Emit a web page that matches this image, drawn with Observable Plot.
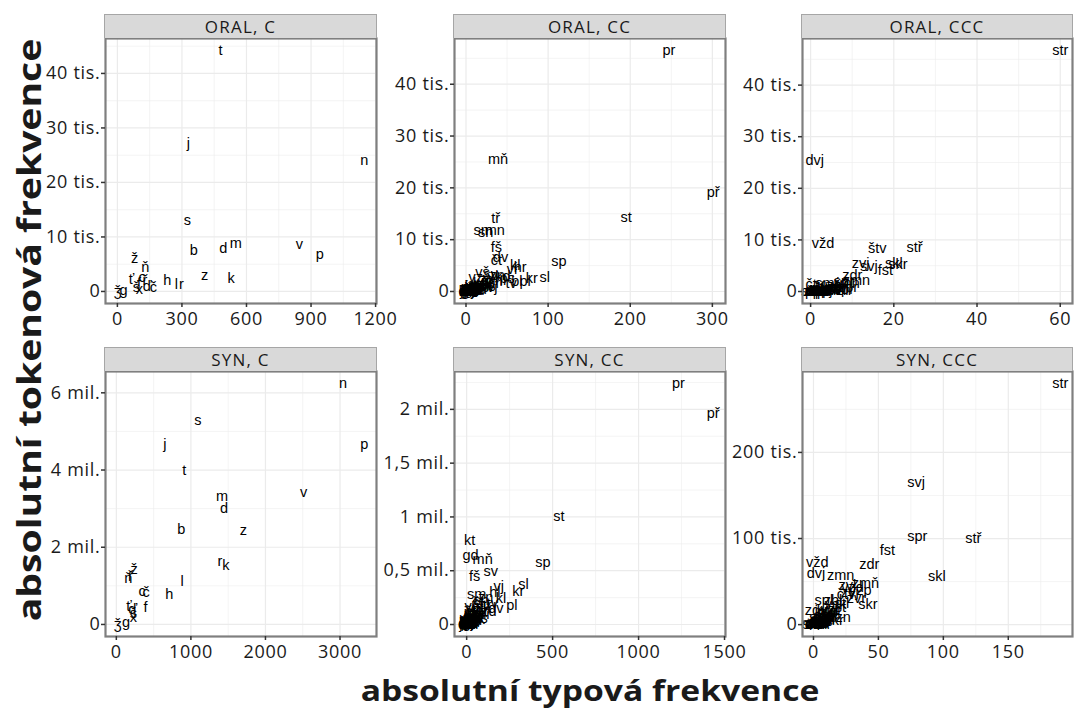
<!DOCTYPE html>
<html>
<head>
<meta charset="utf-8">
<script src="https://cdn.jsdelivr.net/npm/d3@7"></script>
<script src="https://cdn.jsdelivr.net/npm/@observablehq/plot@0.6"></script>
<style>
  html, body { margin: 0; padding: 0; background: #fff; }
  #root { position: relative; width: 1075px; height: 713px; overflow: hidden; font-family: "Open Sans", sans-serif; background: #fff; }
  .strip { position: absolute; box-sizing: border-box; background: #d9d9d9; border: 1px solid #a6a6a6; border-bottom: none;
           font-size: 17px; letter-spacing: 1.2px; color: #1a1a1a; text-align: center; line-height: 23px; height: 24px; }
  .panel { position: absolute; }
  .panel g[aria-label="x-axis tick label"] text,
  .panel g[aria-label="y-axis tick label"] text { letter-spacing: 0.7px; }
  .ytitle { position: absolute; font-weight: 700; font-size: 32px; color: #1a1a1a; white-space: nowrap;
            transform: translate(-50%, -50%) rotate(-90deg) scaleX(1.22); }
  .xtitle { position: absolute; font-weight: 700; font-size: 29px; color: #1a1a1a; white-space: nowrap;
            transform: translate(-50%, -50%) scaleX(1.16); }
</style>
</head>
<body>
<div id="root"></div>
<script>
// ---------- DATA ----------
const stripTitles = ["ORAL, C", "ORAL, CC", "ORAL, CCC", "SYN, C", "SYN, CC", "SYN, CCC"];
const xAxisTitle = "absolutní typová frekvence";
const yAxisTitle = "absolutní tokenová frekvence";

// ORAL, C
const oralC_label = ["t","j","n","s","b","d","m","v","p","z","k","h","l","r","ž","ň","ť","c","ř","š","ď","č","x","g","ǯ","f"];
const oralC_type  = [479,330,1147,325,355,492,550,846,941,406,529,232,274,298,80,130,65,115,128,88,138,167,102,28,2,100];
const oralC_token = [44200,27200,24100,13000,7500,7900,8800,8600,6800,2900,2400,2000,1300,1300,6100,4400,2300,2500,2000,700,1000,700,400,200,0,1500];
const oralC_xticks = [0,300,600,900,1200];
const oralC_yticks = [0,10000,20000,30000,40000];

// ORAL, CC
const oralCC_label = ["pr","mň","př","st","tř","sm","sn","mn","fš","dv","čt","sp","kl","hr","vr","kr","sl","pl","bl","tv","vš","sv","zn","kd","ps","hl","zd","tr","dr","kn","vz","vd","zv","sk","šk","vj","kt","gr","gl","zl","ml","sr","šl","šp","br","mr","cv","žd","dl","ct","tl","vk","vl","vp","vs","km","zb","šv","čl","ks","jm","žr",
  "bd","bz","cl","čm","čr","db","dm","dn","dř","gd","hm","hn","hv","hř","jd","kš","kv","lh","pn","pš","pt","rv","rt","řv","sc","sf","šť","šm","šn","št","tk","tm","tn","vč","vh","vm","vn","vř","vt","zř","zh","zj","zr","žl","žn","žv","bj","pj","mj","ft","fr","fl","ck","tš"];
const oralCC_type  = [247,39,301,195,36,21,24,35,37,42,37,113,60,66,57,80,96,72,62,55,20,30,38,45,50,42,25,28,34,18,12,8,15,24,10,32,6,14,5,3,4,2,9,13,26,7,11,16,5,3,8,22,17,19,27,10,6,4,14,3,2,1,
  1,2,2,3,5,2,3,6,7,4,6,9,8,5,6,3,12,2,4,5,9,3,4,2,3,2,6,4,3,25,11,7,3,4,3,8,14,6,12,5,9,6,7,4,3,5,3,4,6,3,8,4,1,2];
const oralCC_token = [46500,25500,19200,14300,14100,11700,11500,11800,8500,6600,6000,5800,5000,4600,4200,2600,2800,2000,1900,1500,3600,3400,3200,3000,2500,2200,2400,1800,1500,1600,2800,1200,1000,900,600,700,400,500,200,100,300,50,350,800,1300,150,250,450,80,60,180,1100,1400,700,1000,900,500,250,150,30,20,10,
  5,15,40,60,120,20,40,300,250,80,220,400,350,180,900,50,800,30,70,150,600,40,90,25,45,30,500,90,50,2000,700,300,35,110,60,260,900,200,450,160,500,320,280,180,70,120,100,130,400,40,220,60,10,30];
const oralCC_xticks = [0,100,200,300];
const oralCC_yticks = [0,10000,20000,30000,40000];

// ORAL, CCC
const oralCCC_label = ["str","dvj","vžd","štv","stř","zvj","svj","fst","skl","skr","zdr","zmn","spr","jmn","zbl","vzd","smr","spl","škr","vzp","zvl","pst","vst","vzn","zvr","mzd","ctn","vkl","vpr","zpr","čtv","vzt",
  "zdv","spj","zvn","vzl","vkr","zkr","skv","zbr","zdř","štr","sml","smn","vpl","zmr","ctv","tkn","vzr","zpl","skř","dřv","vsk","zps","stl"];
const oralCCC_type  = [60,1,3,16,25,12,14,18,20,21,10,11,8,9,6,5,4,7,3,2,4,1,6,7,3,1,5,2,8,9,1,2,
  2,3,1,2,1,3,2,1,2,1,2,1,1,2,1,1,3,2,3,1,4,2,5];
const oralCCC_token = [46700,25400,9300,8300,8500,5500,4800,4100,5500,5300,3100,2200,2000,1600,1200,900,1500,800,600,300,200,100,400,250,50,20,500,700,350,900,1300,150,
  400,300,60,90,30,250,180,40,70,50,130,20,25,110,15,45,200,80,150,10,350,120,600];
const oralCCC_xticks = [0,20,40,60];
const oralCCC_yticks = [0,10000,20000,30000,40000];

// SYN, C
const synC_label = ["n","p","s","j","t","v","m","d","b","z","r","k","l","h","ž","ř","ň","c","č","f","ť","ď","š","x","g","ǯ"];
const synC_type  = [3041,3324,1093,650,912,2513,1418,1445,872,1704,1390,1470,882,711,240,188,160,345,400,390,170,220,230,230,130,20];
const synC_token = [6240000,4660000,5280000,4660000,3980000,3410000,3310000,3000000,2460000,2430000,1630000,1530000,1110000,780000,1420000,1240000,1200000,850000,820000,440000,470000,400000,300000,180000,50000,0];
const synC_xticks = [0,1000,2000,3000];
const synC_yticks = [0,2000000,4000000,6000000];

// SYN, CC
const synCC_label = ["pr","př","st","sp","kt","gd","mň","fš","sv","vj","kr","sl","pl","sm","hl","zn","sn","tv","kl","dv","zd","tr","dr","br","bl","vz","vš","čt","hr","vr","ps","tl","zv","sk","šk","vd","gr","gl","kn","km","zb","vl","vk","šp","šl","cv","žd","dl","ct","mr","vp","vs","šv","jm","ks","čl","pt",
  "bd","bz","cl","čm","čr","db","dm","dn","dř","hm","hn","hv","hř","jd","kš","kv","lh","pn","pš","rv","rt","řv","sc","sf","šť","šm","šn","št","tk","tm","tn","vč","vh","vm","vn","vř","vt","zř","zh","zj","zr","žl","žn","žv","bj","pj","mj","ft","fr","fl","ck"];
const synCC_type  = [1232,1434,537,444,18,23,93,47,140,187,300,330,263,58,164,110,85,150,200,170,130,120,90,75,60,40,30,25,105,70,50,35,45,95,20,15,10,8,28,12,5,55,65,22,14,6,9,4,3,18,38,80,11,2,1,7,16,
  2,5,4,8,14,3,9,22,30,18,35,26,12,16,6,40,3,11,13,7,10,4,6,9,28,10,7,66,44,25,8,15,9,33,48,20,52,17,31,19,24,13,8,14,9,12,21,6,27,11,1];
const synCC_token = [2240000,1960000,1010000,580000,780000,640000,610000,450000,490000,350000,310000,370000,180000,280000,300000,250000,220000,200000,240000,150000,120000,180000,130000,100000,160000,140000,170000,120000,90000,80000,60000,40000,90000,160000,30000,50000,20000,10000,70000,25000,15000,110000,50000,40000,12000,5000,8000,3000,2000,10000,25000,55000,6000,1000,500,3000,20000,
  500,2000,4000,9000,30000,1500,6000,45000,38000,20000,60000,52000,18000,110000,5000,70000,2500,9000,16000,4000,11000,3000,6000,4000,75000,15000,7000,210000,90000,35000,5000,14000,8000,40000,85000,22000,65000,19000,60000,33000,42000,20000,7000,15000,12000,18000,55000,4000,38000,8000,800];
const synCC_xticks = [0,500,1000,1500];
const synCC_yticks = [0,500000,1000000,1500000,2000000];

// SYN, CCC
const synCCC_label = ["str","svj","spr","stř","skl","fst","zdr","vžd","dvj","zmn","zvl","zmň","vzd","vzp","skr","zvr","spl","zbl","zdv","vst","jmn","zpr","vzn","smr","škr","pst","ctn","vkl","čtv","zvj","vpr","mzd","vzt",
  "spj","zvn","vzl","vkr","zkr","skv","zbr","zdř","štr","sml","smn","vpl","zmr","ctv","tkn","vzr","zpl","skř","dřv","vsk","zps","stl"];
const synCCC_type  = [190,79,80,123,95,57,43,3,2,21,26,40,30,36,42,33,8,15,2,18,10,12,20,6,16,4,9,14,25,28,7,1,3,
  5,2,7,3,11,6,2,4,3,9,2,4,8,1,2,13,5,10,1,17,6,22];
const synCCC_token = [280000,165000,102000,100000,56000,86000,70000,72000,60000,57000,46000,48000,43000,40000,23000,30000,28000,28000,17000,20000,15000,10000,8000,9000,5000,3000,6000,12000,35000,38000,4000,1000,2000,
  6000,500,7000,1500,14000,4000,800,3000,1200,11000,600,2500,9000,300,1000,18000,5000,13000,200,24000,3500,25000];
const synCCC_xticks = [0,50,100,150];
const synCCC_yticks = [0,100000,200000];

// ---------- LAYOUT ----------
const root = document.getElementById("root");
const frameLefts = [105, 454, 802];
const frameTops = [38, 371];
const frameWs = [271, 271, 270];
const frameH = 265;
const ml = 100, mr = 2, mt = 2, mb = 34;

function makeFmt(ticks) {
  const useMil = d3.max(ticks) >= 1e6;
  return v => {
    if (v === 0) return "0";
    if (useMil) return String(v / 1e6).replace(".", ",") + " mil.";
    return String(v / 1e3).replace(".", ",") + " tis.";
  };
}
function expand(arr) {
  const [a, b] = d3.extent(arr);
  const s = b - a;
  return [a - 0.05 * s, b + 0.05 * s];
}
function minor(ticks, dom) {
  const step = ticks[1] - ticks[0];
  const out = [];
  for (let v = ticks[0] - step / 2; v <= dom[1]; v += step) if (v >= dom[0]) out.push(v);
  return out;
}

const panels = [
  [oralC_label, oralC_type, oralC_token, oralC_xticks, oralC_yticks],
  [oralCC_label, oralCC_type, oralCC_token, oralCC_xticks, oralCC_yticks],
  [oralCCC_label, oralCCC_type, oralCCC_token, oralCCC_xticks, oralCCC_yticks],
  [synC_label, synC_type, synC_token, synC_xticks, synC_yticks],
  [synCC_label, synCC_type, synCC_token, synCC_xticks, synCC_yticks],
  [synCCC_label, synCCC_type, synCCC_token, synCCC_xticks, synCCC_yticks]
];

panels.forEach(([labels, xs, ys, xticks, yticks], i) => {
  const col = i % 3, row = Math.floor(i / 3);
  const fl = frameLefts[col], ft = frameTops[row], fw = frameWs[col];
  const data = labels.map((l, k) => ({l, x: xs[k], y: ys[k]}));
  const xd = expand(xs), yd = expand(ys);
  const chart = Plot.plot({
    width: fw + ml + mr,
    height: frameH + mt + mb,
    marginLeft: ml, marginRight: mr, marginTop: mt, marginBottom: mb,
    style: {fontFamily: "Open Sans", fontSize: "18px", color: "#1a1a1a", background: "transparent", overflow: "visible"},
    x: {domain: xd, label: null},
    y: {domain: yd, label: null},
    marks: [
      Plot.gridX(minor(xticks, xd), {stroke: "#ededed", strokeOpacity: 1, strokeWidth: 0.6}),
      Plot.gridY(minor(yticks, yd), {stroke: "#ededed", strokeOpacity: 1, strokeWidth: 0.6}),
      Plot.gridX(xticks, {stroke: "#ebebeb", strokeOpacity: 1, strokeWidth: 1.2}),
      Plot.gridY(yticks, {stroke: "#ebebeb", strokeOpacity: 1, strokeWidth: 1.2}),
      Plot.text(data, {x: "x", y: "y", text: "l", fontFamily: "Liberation Sans", fontSize: 14.5, fill: "black"}),
      Plot.frame({stroke: "#7f7f7f", strokeWidth: 2.2}),
      Plot.axisX(xticks, {tickFormat: d => String(d), tickSize: 4, tickPadding: 5, stroke: "#333", strokeWidth: 1.5, fill: "#1a1a1a"}),
      Plot.axisY(yticks, {tickFormat: makeFmt(yticks), tickSize: 4, tickPadding: 1, stroke: "#333", strokeWidth: 1.5, fill: "#1a1a1a"})
    ]
  });
  chart.classList.add("panel");
  chart.style.left = (fl - ml) + "px";
  chart.style.top = (ft - mt) + "px";
  root.appendChild(chart);

  const strip = document.createElement("div");
  strip.className = "strip";
  strip.textContent = stripTitles[i];
  strip.style.left = (fl - 1) + "px";
  strip.style.top = (ft - 24) + "px";
  strip.style.width = (fw + 2) + "px";
  root.appendChild(strip);
});

const yt = document.createElement("div");
yt.className = "ytitle";
yt.textContent = yAxisTitle;
yt.style.left = "28px";
yt.style.top = "330px";
root.appendChild(yt);

const xt = document.createElement("div");
xt.className = "xtitle";
xt.textContent = xAxisTitle;
xt.style.left = "590px";
xt.style.top = "689px";
root.appendChild(xt);
</script>
</body>
</html>
